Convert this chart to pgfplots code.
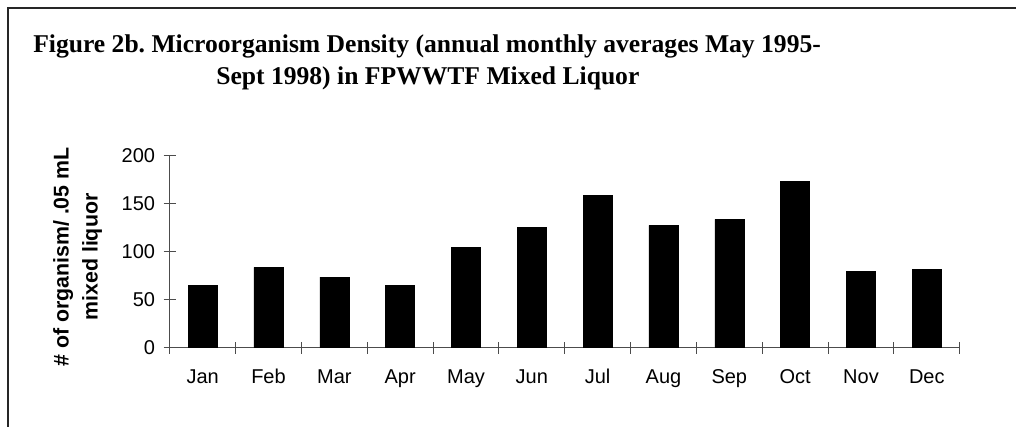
\documentclass[border=0pt]{standalone}
\usepackage{pgfplots}
\pgfplotsset{compat=1.18}
\usepackage{fontspec}
\setmainfont{Liberation Sans}
\newfontfamily\titlefont{Liberation Serif}
\begin{document}
\frenchspacing
\begin{tikzpicture}[x=0.75pt,y=0.75pt]
\useasboundingbox (0,0) rectangle (1016,427);
% frame (only left and top edges visible)
\draw[line width=1.5pt, black!85] (8,-5) -- (8,419) -- (1030,419);
% title
\node[anchor=base west, inner sep=0pt, font=\titlefont\bfseries\fontsize{19.2}{20}\selectfont] at (33,374) {Figure 2b. Microorganism Density (annual monthly averages May 1995-};
\node[anchor=base west, inner sep=0pt, font=\titlefont\bfseries\fontsize{19.2}{20}\selectfont] at (216,342) {Sept 1998) in FPWWTF Mixed Liquor};
\begin{axis}[
  at={(127.3pt,59.5pt)}, anchor=south west,
  width=592.5pt, height=144pt, scale only axis,
  xmin=-0.5, xmax=11.5, ymin=0, ymax=200,
  axis x line=bottom, axis y line=left,
  axis line style={-, black!70, line width=0.8pt},
  every tick/.style={black!70, line width=0.8pt},
  tick align=center, major tick length=9pt,
  xtick={-0.5,0.5,...,11.5},
  x tick label as interval,
  xticklabels={Jan,Feb,Mar,Apr,May,Jun,Jul,Aug,Sep,Oct,Nov,Dec},
  ytick={0,50,...,200},
  /pgf/number format/assume math mode=true,
  tick label style={font=\fontsize{15}{16}\selectfont, black},
  xticklabel style={yshift=-8pt, text height=11pt, text depth=3pt},
  yticklabel style={xshift=-3pt},
  ylabel={\# of organism/ .05 mL\\mixed liquor},
  every axis y label/.style={at={(rel axis cs:0,0.472)}, xshift=-69pt, rotate=90, anchor=center, align=center, font=\bfseries\fontsize{16}{21.75}\selectfont},
  clip=false,
]
\addplot[ybar, bar width=21.75pt, fill=black, draw=black] coordinates {
 (0,64.6) (1,83.7) (2,73.6) (3,64.6) (4,104.6) (5,125.4)
 (6,158.7) (7,127.5) (8,133.7) (9,173.6) (10,79.6) (11,81.7)
};
\end{axis}
\end{tikzpicture}
\end{document}
